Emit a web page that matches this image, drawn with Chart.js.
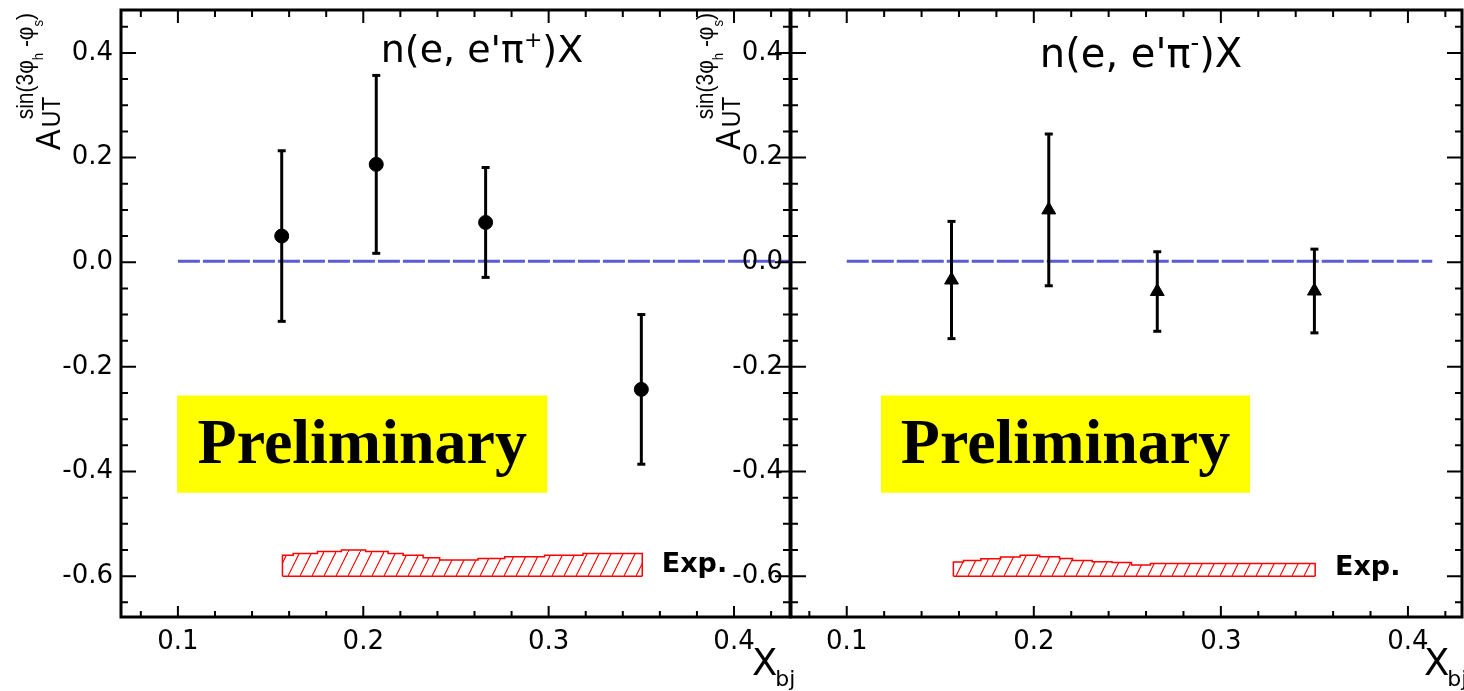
<!DOCTYPE html>
<html>
<head>
<meta charset="utf-8">
<script src="https://cdn.jsdelivr.net/npm/chart.js@4.4.1/dist/chart.umd.min.js"></script>
<style>
  html, body { margin: 0; padding: 0; background: #fff; }
  #wrap { position: relative; width: 1464px; height: 691px; overflow: hidden; }
  .panel { position: absolute; top: 0; height: 691px; }
  #boxPlus { left: 0; width: 800px; }
  #boxMinus { left: 680px; width: 784px; }
</style>
</head>
<body>
<div id="wrap">
  <div class="panel" id="boxPlus"><canvas id="chartPlus"></canvas></div>
  <div class="panel" id="boxMinus"><canvas id="chartMinus"></canvas></div>
</div>
<script>
// pi+ points (circles)
const xPiPlus = [0.156, 0.207, 0.266, 0.350];
const aPiPlus = [0.050, 0.187, 0.076, -0.243];
const ePiPlus = [0.163, 0.170, 0.105, 0.143];

// pi- points (triangles)
const xPiMinus = [0.156, 0.208, 0.266, 0.350];
const aPiMinus = [-0.034, 0.100, -0.056, -0.055];
const ePiMinus = [0.112, 0.145, 0.076, 0.080];

// experimental systematic band: bin edges and top of each bin, bottom at -0.6
const bandEdgesPlus = [0.1564, 0.1622, 0.1753, 0.1882, 0.2013, 0.2134, 0.2215, 0.2323, 0.2412, 0.2619, 0.2763, 0.2978, 0.3185, 0.3401, 0.3505];
const bandTopPlus = [-0.565, -0.560, -0.5565, -0.553, -0.550, -0.553, -0.5565, -0.560, -0.565, -0.569, -0.566, -0.563, -0.560, -0.5565];
const bandEdgesMinus = [0.157, 0.1624, 0.1717, 0.1822, 0.1927, 0.2032, 0.2137, 0.2207, 0.2312, 0.2418, 0.2522, 0.2623, 0.3083, 0.3504];
const bandTopMinus = [-0.5775, -0.573, -0.570, -0.5666, -0.5635, -0.560, -0.563, -0.566, -0.570, -0.5725, -0.574, -0.5786, -0.5756];
const bandBase = -0.6;

// dashed zero line extent
const zeroLinePlus = [0.1, 0.43];
const zeroLineMinus = [0.1, 0.413];
const zeroLevel = 0.002;

// axis ticks
const xMajorTicks = [0.1, 0.2, 0.3, 0.4];
const yMajorTicks = [-0.6, -0.4, -0.2, 0.0, 0.2, 0.4];
const xMinorStep = 0.02;
const yMinorStep = 0.05;
const yRange = [-0.678, 0.482];

Chart.defaults.font.family = 'DejaVu Sans';
Chart.defaults.color = '#000';

function stepTicks(majors, step, below, above) {
  const out = [];
  const first = majors[0] - below * step;
  const n = Math.round((majors[majors.length - 1] + above * step - first) / step);
  for (let i = 0; i <= n; i++) out.push(+(first + i * step).toFixed(4));
  return out;
}
const xTickValues = stepTicks(xMajorTicks, xMinorStep, 1, 1);
const yTickValues = stepTicks(yMajorTicks, yMinorStep, 1, 1);

function isMajor(v, majors) {
  return majors.some(m => Math.abs(m - v) < 1e-6);
}

function hatchPattern() {
  const c = document.createElement('canvas');
  c.width = 12; c.height = 24;
  const g = c.getContext('2d');
  g.strokeStyle = '#ff0000';
  g.lineWidth = 1.2;
  g.beginPath();
  g.moveTo(-1, 26);
  g.lineTo(13, -2);
  g.stroke();
  return g.createPattern(c, 'repeat');
}

function drawParts(ctx, parts, x, y) {
  let cx = x;
  parts.forEach(p => {
    ctx.font = p.font;
    ctx.fillText(p.t, cx, y + (p.dy || 0));
    cx += ctx.measureText(p.t).width;
  });
  return cx;
}
function partsWidth(ctx, parts) {
  let w = 0;
  parts.forEach(p => { ctx.font = p.font; w += ctx.measureText(p.t).width; });
  return w;
}

function noPad(s) {
  s.paddingTop = 0; s.paddingBottom = 0; s.paddingLeft = 0; s.paddingRight = 0;
}

const rootDecor = {
  id: 'rootDecor',
  beforeDatasetsDraw(chart, args, o) {
    const { ctx, scales: { x, y } } = chart;
    const l = x.getPixelForValue(o.box[0]), r = x.getPixelForValue(o.box[1]);
    const t = y.getPixelForValue(o.box[3]), b = y.getPixelForValue(o.box[2]);
    ctx.save();
    ctx.fillStyle = '#ffff00';
    ctx.fillRect(l, t, r - l, b - t);
    ctx.fillStyle = '#000';
    ctx.font = 'bold 64px "Liberation Serif"';
    ctx.textAlign = 'center';
    ctx.textBaseline = 'alphabetic';
    ctx.fillText('Preliminary', (l + r) / 2, (t + b) / 2 + 19);
    ctx.restore();
  },
  afterDatasetsDraw(chart, args, o) {
    const { ctx, chartArea: a, scales: { x, y } } = chart;
    ctx.save();
    // frame
    ctx.strokeStyle = '#000';
    ctx.lineWidth = 3;
    ctx.strokeRect(a.left, a.top, a.right - a.left, a.bottom - a.top);
    // ticks on all four sides
    ctx.lineWidth = 2;
    ctx.beginPath();
    x.ticks.forEach(tk => {
      const px = x.getPixelForValue(tk.value);
      const maj = isMajor(tk.value, xMajorTicks);
      ctx.moveTo(px, a.bottom); ctx.lineTo(px, a.bottom - (maj ? 11 : 6));
      ctx.moveTo(px, a.top); ctx.lineTo(px, a.top + (maj ? 13 : 7));
    });
    y.ticks.forEach(tk => {
      const py = y.getPixelForValue(tk.value);
      const maj = isMajor(tk.value, yMajorTicks);
      ctx.moveTo(a.left, py); ctx.lineTo(a.left + (maj ? 15 : 7), py);
      ctx.moveTo(a.right, py); ctx.lineTo(a.right - (maj ? 15 : 7), py);
    });
    ctx.stroke();

    ctx.fillStyle = '#000';
    ctx.textAlign = 'left';
    ctx.textBaseline = 'alphabetic';
    const off = o.offset;

    // panel title
    const tw = partsWidth(ctx, o.title.parts);
    drawParts(ctx, o.title.parts, o.title.cx - off - tw / 2, o.title.base);

    // Exp. label
    ctx.font = 'bold 27px "DejaVu Sans"';
    ctx.fillText('Exp.', x.getPixelForValue(o.exp[0]), y.getPixelForValue(o.exp[1]));

    // x axis title
    ctx.font = '37px "DejaVu Sans"';
    ctx.fillText('X', o.xTitle[0] - off, o.xTitle[1]);
    const xw = ctx.measureText('X').width;
    ctx.font = '22px "DejaVu Sans"';
    ctx.fillText('bj', o.xTitle[0] - off + xw - 2, o.xTitle[1] + 11);

    // y axis title, rotated
    ctx.save();
    ctx.translate(o.yTitle[0] - off, o.yTitle[1]);
    ctx.rotate(-Math.PI / 2);
    ctx.scale(1, 1.13);
    ctx.font = '31px "Liberation Sans"';
    ctx.fillText('A', 0, 0);
    const aw = ctx.measureText('A').width;
    ctx.font = '23px "Liberation Sans"';
    ctx.fillText('UT', aw + 2, 0);
    drawParts(ctx, [
      { t: 'sin(3φ', font: '21px "Liberation Sans"', dy: -24 },
      { t: 'h', font: '13px "Liberation Sans"', dy: -15 },
      { t: ' -φ', font: '21px "Liberation Sans"', dy: -24 },
      { t: 's', font: '13px "Liberation Sans"', dy: -15 },
      { t: ')', font: '21px "Liberation Sans"', dy: -24 }
    ], aw + 10, 0);
    ctx.restore();

    ctx.restore();
  }
};

function panelDatasets(xs, as, es, marker, edges, tops, zeroX) {
  const sets = [];
  const x0 = edges[0], xe = edges[edges.length - 1];
  sets.push({
    data: zeroX.map(v => ({ x: v, y: zeroLevel })),
    borderColor: '#5b5bd6', borderWidth: 3, borderDash: [22, 3],
    pointRadius: 0, fill: false, order: 5
  });
  // hatched band: stepped top edge with sides, filled down to the base
  const band = [{ x: x0, y: bandBase }];
  tops.forEach((t, i) => band.push({ x: edges[i], y: t }));
  band.push({ x: xe, y: tops[tops.length - 1] });
  band.push({ x: xe, y: bandBase });
  sets.push({
    data: band, stepped: 'after',
    borderColor: '#ff0000', borderWidth: 1.5,
    backgroundColor: hatchPattern(), fill: { value: bandBase },
    pointRadius: 0, order: 4
  });
  // band bottom edge
  sets.push({
    data: [{ x: x0, y: bandBase }, { x: xe, y: bandBase }],
    borderColor: '#ff0000', borderWidth: 1.5,
    pointRadius: 0, fill: false, order: 3
  });
  xs.forEach((xv, i) => {
    sets.push({
      data: [{ x: xv, y: as[i] - es[i] }, { x: xv, y: as[i] + es[i] }],
      borderColor: '#000', borderWidth: 3,
      pointStyle: 'line', pointRadius: 4, pointBorderWidth: 3,
      pointBorderColor: '#000', pointBackgroundColor: '#000',
      fill: false, order: 1
    });
  });
  sets.push({
    data: xs.map((xv, i) => ({ x: xv, y: as[i] })),
    showLine: false, pointStyle: marker,
    pointRadius: marker === 'circle' ? 7 : 8,
    pointBackgroundColor: '#000', pointBorderColor: '#000', pointBorderWidth: 1,
    order: 0
  });
  return sets;
}

function makePanel(id, cfg) {
  return new Chart(document.getElementById(id), {
    type: 'line',
    data: { datasets: panelDatasets(cfg.xs, cfg.as, cfg.es, cfg.marker, cfg.edges, cfg.tops, cfg.zeroX) },
    plugins: [rootDecor],
    options: {
      responsive: true,
      maintainAspectRatio: false,
      animation: false,
      events: [],
      layout: { autoPadding: false, padding: { top: 10, right: cfg.padRight, left: 0, bottom: 0 } },
      plugins: {
        legend: { display: false },
        tooltip: { enabled: false },
        rootDecor: cfg.decor
      },
      scales: {
        x: {
          type: 'linear', min: cfg.xMin, max: cfg.xMax,
          afterBuildTicks: s => { s.ticks = xTickValues.map(v => ({ value: v })); },
          afterFit: s => { s.height = 74; noPad(s); },
          grid: { display: false, drawTicks: false },
          border: { display: false },
          ticks: {
            autoSkip: false, maxRotation: 0, padding: 10,
            font: { family: 'DejaVu Sans', size: 26 },
            callback: v => isMajor(v, xMajorTicks) ? v.toFixed(1) : ''
          }
        },
        y: {
          type: 'linear', min: yRange[0], max: yRange[1],
          afterBuildTicks: s => { s.ticks = yTickValues.map(v => ({ value: v })); },
          afterFit: s => { s.width = cfg.yWidth; noPad(s); },
          grid: { display: false, drawTicks: false },
          border: { display: false },
          ticks: {
            autoSkip: false, padding: 8,
            font: { family: 'DejaVu Sans', size: 26 },
            callback: v => isMajor(v, yMajorTicks) ? v.toFixed(1) : ''
          }
        }
      }
    }
  });
}

makePanel('chartPlus', {
  xs: xPiPlus, as: aPiPlus, es: ePiPlus, marker: 'circle',
  edges: bandEdgesPlus, tops: bandTopPlus, zeroX: zeroLinePlus,
  xMin: 0.0693, xMax: 0.4302, yWidth: 121, padRight: 10,
  decor: {
    offset: 0,
    box: [0.0996, 0.2993, -0.4405, -0.2546],
    exp: [0.361, -0.592],
    xTitle: [752, 675],
    yTitle: [60, 150],
    title: {
      cx: 482, base: 62,
      parts: [
        { t: "n(e, e'π", font: '38px "DejaVu Sans"' },
        { t: '+', font: '22px "DejaVu Sans"', dy: -15 },
        { t: ')X', font: '38px "DejaVu Sans"' }
      ]
    }
  }
});

makePanel('chartMinus', {
  xs: xPiMinus, as: aPiMinus, es: ePiMinus, marker: 'triangle',
  edges: bandEdgesMinus, tops: bandTopMinus, zeroX: zeroLineMinus,
  xMin: 0.0702, xMax: 0.4289, yWidth: 111, padRight: 2,
  decor: {
    offset: 680,
    box: [0.1183, 0.3156, -0.4405, -0.2546],
    exp: [0.361, -0.597],
    xTitle: [1424, 675],
    yTitle: [740, 150],
    title: {
      cx: 1141, base: 67,
      parts: [
        { t: "n(e, e'π", font: '40px "DejaVu Sans"' },
        { t: '-', font: '24px "DejaVu Sans"', dy: -16 },
        { t: ')X', font: '40px "DejaVu Sans"' }
      ]
    }
  }
});
</script>
</body>
</html>
